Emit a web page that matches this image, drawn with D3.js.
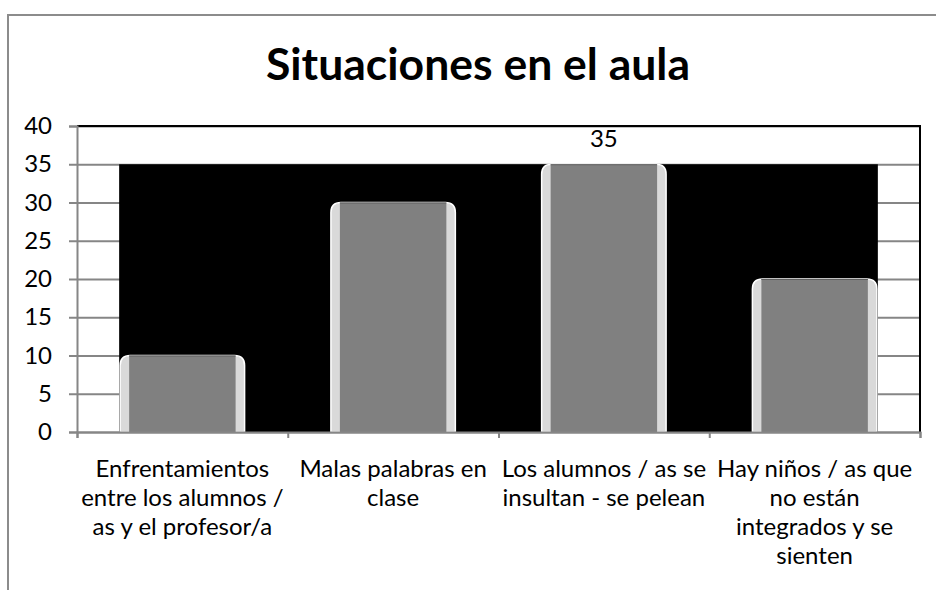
<!DOCTYPE html>
<html>
<head>
<meta charset="utf-8">
<script src="https://cdn.jsdelivr.net/npm/d3@7"></script>
<style>
  body { margin: 0; background: #fff; }
  svg { display: block; font-family: Lato, "Open Sans", sans-serif; }
</style>
</head>
<body>
<div id="chart"></div>
<script>
var title = "Situaciones en el aula";

var categories = [
    "Enfrentamientos entre los alumnos / as y el profesor/a",
    "Malas palabras en clase",
    "Los alumnos / as se insultan - se pelean",
    "Hay niños / as que no están integrados y se sienten"
];

// the wrapped tick labels as they appear under each bar
var tickLines = [
    ["Enfrentamientos", "entre los alumnos /", "as y el profesor/a"],
    ["Malas palabras en", "clase"],
    ["Los alumnos / as se", "insultan - se pelean"],
    ["Hay niños / as que", "no están", "integrados y se", "sienten"]
];

var values = [10, 30, 35, 20];

// only the third bar carries a data label
var showLabel = [false, false, true, false];

var yTicks = [0, 5, 10, 15, 20, 25, 30, 35, 40];

(function () {
    var width = 936, height = 590;
    var margin = { top: 126, right: 16, bottom: 158, left: 77 };
    var plotW = width - margin.left - margin.right,
        plotH = height - margin.top - margin.bottom;

    var svg = d3.select("#chart").append("svg")
        .attr("width", width)
        .attr("height", height);

    // outer frame of the chart area
    svg.append("path")
        .attr("d", "M 8 " + height + " L 8 15 L " + width + " 15")
        .attr("fill", "none")
        .attr("stroke", "#8c8c8c")
        .attr("stroke-width", 2);

    svg.append("text")
        .attr("x", 478)
        .attr("y", 80)
        .attr("text-anchor", "middle")
        .attr("font-size", 44.5)
        .attr("font-weight", "bold")
        .text(title);

    var chart = svg.append("g")
        .attr("transform", "translate(" + margin.left + "," + margin.top + ")");

    var x = d3.scaleBand()
        .domain(categories)
        .range([0, plotW])
        .paddingInner(0.4)
        .paddingOuter(0.2);

    // boundaries between categories, for the bottom tick marks
    var xEdge = d3.scaleLinear()
        .domain([0, categories.length])
        .range([0, plotW]);

    var y = d3.scaleLinear()
        .domain([0, 40])
        .range([plotH, 0]);

    // gridlines
    chart.append("g")
        .attr("class", "grid")
        .call(d3.axisLeft(y).tickValues(yTicks).tickSize(-plotW).tickFormat(""))
        .call(g => g.select(".domain").remove())
        .call(g => g.selectAll("line").attr("stroke", "#868686").attr("stroke-width", 2));

    // black backdrop spanning the bars up to the highest value
    var first = categories[0], last = categories[categories.length - 1];
    chart.append("rect")
        .attr("x", x(first))
        .attr("y", y(d3.max(values)))
        .attr("width", x(last) + x.bandwidth() - x(first))
        .attr("height", y(0) - y(d3.max(values)))
        .attr("fill", "#000");

    // plot border: top and right in black
    chart.append("path")
        .attr("d", "M 0 " + y(40) + " L " + plotW + " " + y(40) + " L " + plotW + " " + y(0))
        .attr("fill", "none")
        .attr("stroke", "#000")
        .attr("stroke-width", 2);

    var edge = 10, r = 10;
    var bars = chart.selectAll(".bar")
        .data(values)
        .enter().append("g")
        .attr("class", "bar");

    bars.append("path")
        .attr("d", function (d, i) {
            var x0 = x(categories[i]) + 1, x1 = x(categories[i]) + x.bandwidth() - 1,
                top = y(d), bot = y(0);
            return "M " + x0 + " " + bot + " L " + x0 + " " + (top + r) +
                " Q " + x0 + " " + top + " " + (x0 + r) + " " + top +
                " L " + (x1 - r) + " " + top +
                " Q " + x1 + " " + top + " " + x1 + " " + (top + r) +
                " L " + x1 + " " + bot + " Z";
        })
        .attr("fill", "#d9d9d9")
        .attr("stroke", "#fff")
        .attr("stroke-width", 1.5);

    bars.append("rect")
        .attr("x", (d, i) => x(categories[i]) + edge)
        .attr("y", d => y(d))
        .attr("width", x.bandwidth() - 2 * edge)
        .attr("height", d => y(0) - y(d))
        .attr("fill", "#808080");

    bars.append("line")
        .attr("x1", (d, i) => x(categories[i]) + edge)
        .attr("x2", (d, i) => x(categories[i]) + x.bandwidth() - edge)
        .attr("y1", d => y(d) + 0.5)
        .attr("y2", d => y(d) + 0.5)
        .attr("stroke", "#5f5f5f")
        .attr("stroke-width", 1);

    bars.filter((d, i) => showLabel[i]).append("text")
        .attr("x", (d, i) => x(categories[values.indexOf(d)]) + x.bandwidth() / 2)
        .attr("y", d => y(d) - 17)
        .attr("text-anchor", "middle")
        .attr("font-size", 24)
        .text(d => d);

    // y axis
    chart.append("g")
        .call(d3.axisLeft(y).tickValues(yTicks).tickSize(8).tickPadding(17))
        .call(g => g.select(".domain").attr("stroke", "#868686").attr("stroke-width", 2))
        .call(g => g.selectAll(".tick line").attr("stroke", "#868686").attr("stroke-width", 2))
        .call(g => g.selectAll(".tick text")
            .attr("font-size", 24)
            .attr("font-family", "Lato, sans-serif")
            .attr("fill", "#000"));

    // x axis: tick marks on category boundaries
    chart.append("g")
        .attr("transform", "translate(0," + plotH + ")")
        .call(d3.axisBottom(xEdge).tickValues(d3.range(categories.length + 1)).tickSize(6).tickFormat(""))
        .call(g => g.select(".domain").attr("stroke", "#868686").attr("stroke-width", 2))
        .call(g => g.selectAll(".tick line").attr("stroke", "#868686").attr("stroke-width", 2));

    // category labels, centred under each band
    var lineH = 29;
    chart.selectAll(".xlabel")
        .data(tickLines)
        .enter().append("text")
        .attr("class", "xlabel")
        .attr("text-anchor", "middle")
        .attr("font-size", 24)
        .attr("transform", (d, i) => "translate(" + (x(categories[i]) + x.bandwidth() / 2) + "," + (plotH + 45) + ")")
        .selectAll("tspan")
        .data(d => d)
        .enter().append("tspan")
        .attr("x", 0)
        .attr("dy", (d, j) => j === 0 ? 0 : lineH)
        .text(d => d);
})();
</script>
</body>
</html>
